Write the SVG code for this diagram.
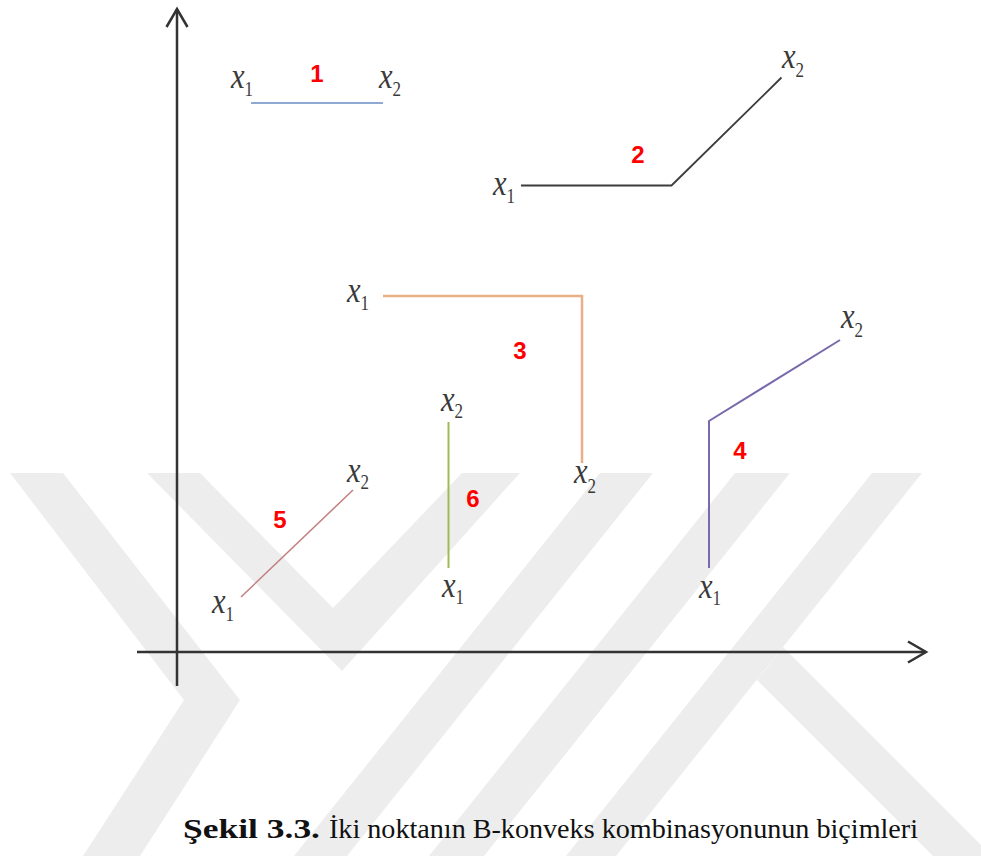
<svg xmlns="http://www.w3.org/2000/svg" width="981" height="856" viewBox="0 0 981 856">
  <defs>
    <style>
      .wm { fill: #ededed; }
      .axis { stroke: #333; stroke-width: 2.5; fill: none; }
      .seg { fill: none; stroke-linejoin: miter; }
      .lbl { fill: #3a3a3a; }
      .xi { font-style: italic; font-size: 36px; }
      .sub { font-style: normal; font-size: 20px; }
      .num { font-family: 'Liberation Sans', Arial, sans-serif; font-weight: bold; font-size: 24px; fill: #ff0000; text-anchor: middle; }
      .cap { font-size: 27px; fill: #111; }
    </style>
    <marker id="open-arrow" markerUnits="userSpaceOnUse" markerWidth="24" markerHeight="26" viewBox="-20 -12 24 24" refX="0" refY="0" orient="auto">
      <path d="M-18,-10.5 L0,0 L-18,10.5" fill="none" stroke="#333" stroke-width="2.5"/>
    </marker>
  </defs>

  <rect width="981" height="856" fill="#ffffff"/>

  <!-- light background emblem -->
  <g id="emblem">
    <polygon class="wm" points="10,473 63,473 240,700 140,856 83,856 184,700"/>
    <polygon class="wm" points="147,473 200,473 333,608 462,473 520,473 342,671"/>
    <polygon class="wm" points="600,473 653,473 347,856 294,856"/>
    <polygon class="wm" points="735,473 790,473 484,856 429,856"/>
    <polygon class="wm" points="872,473 922,473 616,856 566,856"/>
    <polygon class="wm" points="783,647 992,856 933,856 757,680"/>
  </g>

  <!-- coordinate axes -->
  <g id="axes">
    <line class="axis" x1="177" y1="686" x2="177" y2="9" marker-end="url(#open-arrow)"/>
    <line class="axis" x1="137" y1="652" x2="926" y2="652" stroke-width="3" marker-end="url(#open-arrow)"/>
  </g>

  <!-- the six point pairs and their connecting paths -->
  <g id="connectors">
    <polyline id="path1" class="seg" points="251,103 383,103" stroke="#8eaad2" stroke-width="2"/>
    <polyline id="path2" class="seg" points="521,185.5 671.5,185.5 781.5,77.5" stroke="#3c3c3c" stroke-width="1.8"/>
    <polyline id="path3" class="seg" points="383,296 582,296 582,463" stroke="#e9b088" stroke-width="2.5"/>
    <polyline id="path4" class="seg" points="709,568 709,421 840,340" stroke="#7a6aad" stroke-width="2"/>
    <polyline id="path5" class="seg" points="241,597 353,490" stroke="#c27f7f" stroke-width="1.5"/>
    <polyline id="path6" class="seg" points="448.5,422 448.5,568" stroke="#9bbb59" stroke-width="2"/>
  </g>

  <g id="labels" font-family="Times New Roman, Liberation Serif, Times, serif">
    <g id="case1">
      <g transform="translate(231,88) scale(0.85,1)"><text class="lbl"><tspan class="xi">x</tspan><tspan class="sub" dy="8">1</tspan></text></g>
      <g transform="translate(379,88) scale(0.85,1)"><text class="lbl"><tspan class="xi">x</tspan><tspan class="sub" dy="8">2</tspan></text></g>
      <text class="num" x="317" y="82">1</text>
    </g>

    <g id="case2">
      <g transform="translate(493,195) scale(0.85,1)"><text class="lbl"><tspan class="xi">x</tspan><tspan class="sub" dy="8">1</tspan></text></g>
      <g transform="translate(782,68) scale(0.85,1)"><text class="lbl"><tspan class="xi">x</tspan><tspan class="sub" dy="9">2</tspan></text></g>
      <text class="num" x="638" y="163">2</text>
    </g>

    <g id="case3">
      <g transform="translate(347,302) scale(0.85,1)"><text class="lbl"><tspan class="xi">x</tspan><tspan class="sub" dy="8">1</tspan></text></g>
      <g transform="translate(574,483) scale(0.85,1)"><text class="lbl"><tspan class="xi">x</tspan><tspan class="sub" dy="10">2</tspan></text></g>
      <text class="num" x="520" y="359">3</text>
    </g>

    <g id="case4">
      <g transform="translate(699,598) scale(0.85,1)"><text class="lbl"><tspan class="xi">x</tspan><tspan class="sub" dy="7">1</tspan></text></g>
      <g transform="translate(841,328) scale(0.85,1)"><text class="lbl"><tspan class="xi">x</tspan><tspan class="sub" dy="9">2</tspan></text></g>
      <text class="num" x="740" y="459">4</text>
    </g>

    <g id="case5">
      <g transform="translate(212,613) scale(0.85,1)"><text class="lbl"><tspan class="xi">x</tspan><tspan class="sub" dy="8">1</tspan></text></g>
      <g transform="translate(347,482) scale(0.85,1)"><text class="lbl"><tspan class="xi">x</tspan><tspan class="sub" dy="7">2</tspan></text></g>
      <text class="num" x="280" y="528">5</text>
    </g>

    <g id="case6">
      <g transform="translate(442,597) scale(0.85,1)"><text class="lbl"><tspan class="xi">x</tspan><tspan class="sub" dy="7">1</tspan></text></g>
      <g transform="translate(441,411) scale(0.85,1)"><text class="lbl"><tspan class="xi">x</tspan><tspan class="sub" dy="7">2</tspan></text></g>
      <text class="num" x="473" y="507">6</text>
    </g>

    <g id="caption">
      <text class="cap" x="183" y="838" font-weight="bold" textLength="137" lengthAdjust="spacingAndGlyphs">Şekil 3.3.</text>
      <text class="cap" x="329" y="838" textLength="589" lengthAdjust="spacingAndGlyphs">İki noktanın B-konveks kombinasyonunun biçimleri</text>
    </g>
  </g>
</svg>
